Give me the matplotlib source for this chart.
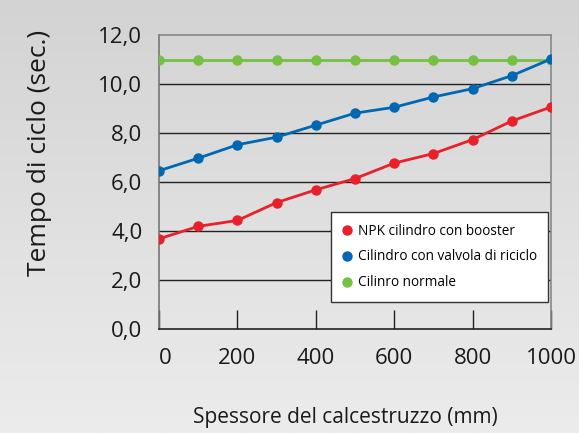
import numpy as np
import matplotlib
matplotlib.use("Agg")
import matplotlib.pyplot as plt

plt.rcParams['font.family'] = ['Open Sans', 'DejaVu Sans']

spessore = [0, 100, 200, 300, 400, 500, 600, 700, 800, 900, 1000]
npk_booster = [3.68, 4.19, 4.43, 5.16, 5.68, 6.14, 6.77, 7.16, 7.73, 8.49, 9.06]
valvola_riciclo = [6.46, 6.97, 7.52, 7.83, 8.32, 8.81, 9.05, 9.47, 9.81, 10.34, 11.02]
cilindro_normale = [11.0] * 11

y_ticks = [0, 2, 4, 6, 8, 10, 12]
y_labels = ["0,0", "2,0", "4,0", "6,0", "8,0", "10,0", "12,0"]
x_ticks = [0, 200, 400, 600, 800, 1000]

fig = plt.figure(figsize=(5.79, 4.33), dpi=100)

# gradient background
bg = fig.add_axes([0, 0, 1, 1], zorder=-10)
grad = np.linspace(0, 1, 256).reshape(-1, 1)
bg.imshow(grad, aspect='auto', cmap=matplotlib.colors.LinearSegmentedColormap.from_list(
    "g", ["#d3d3d3", "#ececec"]), extent=[0, 1, 0, 1])
bg.axis("off")

ax = fig.add_axes([159/579, 1-329/433, (551-159)/579, (329-35)/433])
ax.patch.set_alpha(0)

for y in [2, 4, 6, 8, 10]:
    ax.axhline(y, color="#222222", lw=1.0, zorder=1)

ax.plot(spessore, cilindro_normale, color="#76c043", lw=2, marker="o", ms=6.5,
        label="Cilinro normale", zorder=3)
ax.plot(spessore, valvola_riciclo, color="#0067b1", lw=2, marker="o", ms=6.5,
        label="Cilindro con valvola di riciclo", zorder=4)
ax.plot(spessore, npk_booster, color="#e8202a", lw=2, marker="o", ms=6.5,
        label="NPK cilindro con booster", zorder=5)

ax.set_xlim(0, 1000)
ax.set_ylim(0, 12)
ax.set_yticks(y_ticks)
ax.set_yticklabels(y_labels, fontsize=16, color="#1a1a1a")
ax.set_xticks(x_ticks)
ax.set_xticklabels([str(v) for v in x_ticks], fontsize=16, color="#1a1a1a")
ax.tick_params(axis="y", length=0, pad=12)
ax.tick_params(axis="x", direction="in", length=14, width=1, color="#222222", pad=14)
ax.get_xticklabels()[0].set_horizontalalignment("left")

ax.spines["bottom"].set_color("#222222")
ax.spines["left"].set_color("#777777")
ax.spines["top"].set_color("#888888")
ax.spines["right"].set_color("#888888")
for s in ax.spines.values():
    s.set_linewidth(1.2)

h, l = ax.get_legend_handles_labels()
leg = ax.legend(h[::-1], l[::-1], loc="upper left", bbox_to_anchor=((331-159)/392, (329-212)/294),
                fontsize=9.8, frameon=True, fancybox=False, handlelength=0.6, handletextpad=0.5,
                borderpad=0.85, labelspacing=0.8, borderaxespad=0, markerscale=1.0)
for line in leg.get_lines():
    line.set_linestyle("none")
leg.get_frame().set_edgecolor("#333333")
leg.get_frame().set_facecolor("white")
leg.get_frame().set_alpha(1)
leg.get_frame().set_linewidth(1)
leg.set_zorder(10)

fig.text(40/579, 1-153/433, "Tempo di ciclo (sec.)", rotation=90, ha="center", va="center",
         fontsize=19, color="#1a1a1a")
fig.text(345/579, 1-417/433, "Spessore del calcestruzzo (mm)", ha="center", va="center",
         fontsize=15, color="#1a1a1a")

fig.savefig("out.png", dpi=100)
